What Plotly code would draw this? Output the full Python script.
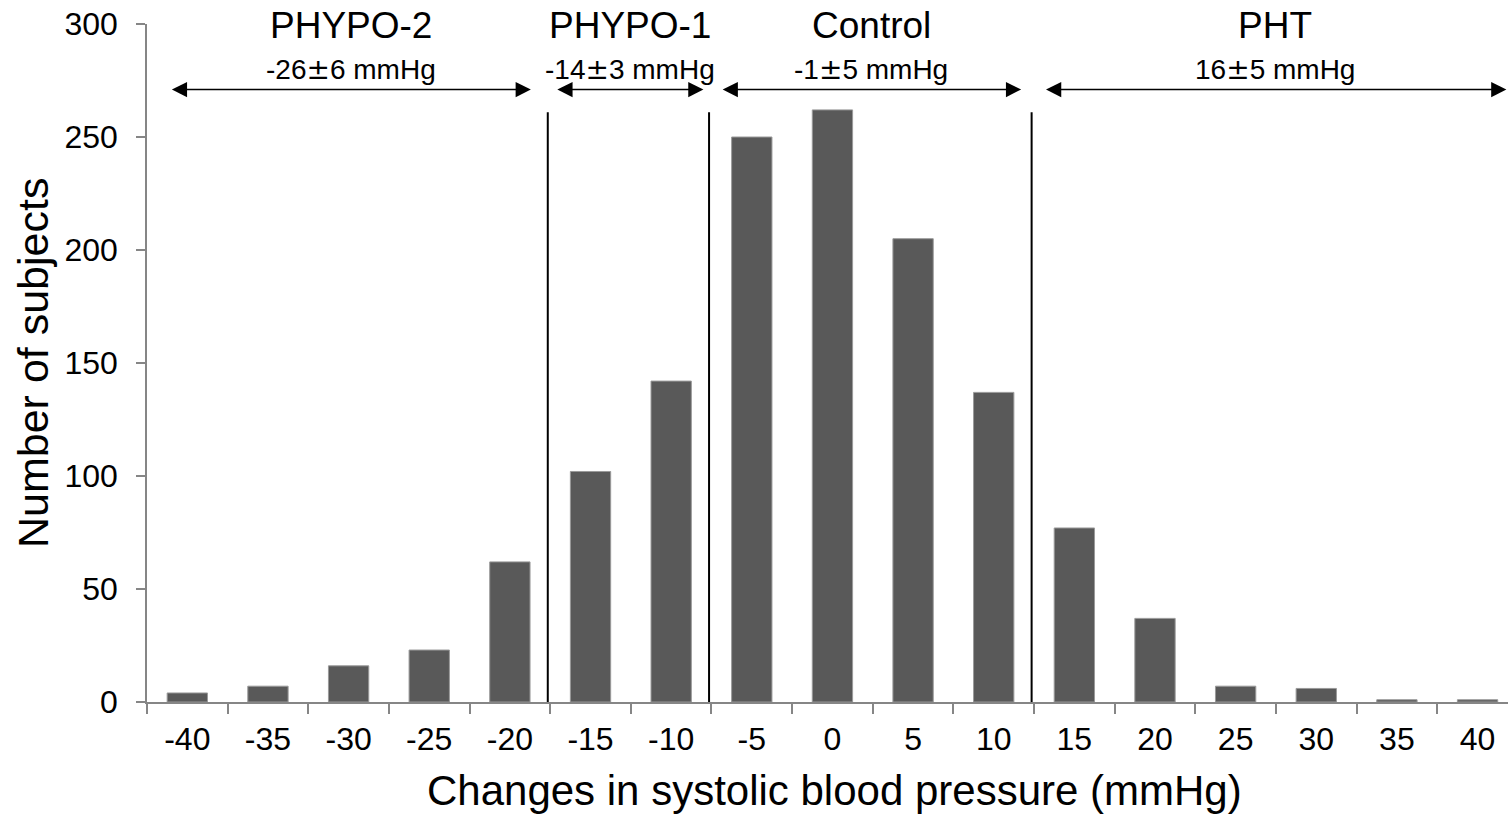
import plotly.graph_objects as go

# ---- data ----
categories = ["-40", "-35", "-30", "-25", "-20", "-15", "-10", "-5", "0",
              "5", "10", "15", "20", "25", "30", "35", "40"]
counts = [4, 7, 16, 23, 62, 102, 142, 250, 262, 205, 137, 77, 37, 7, 6, 1, 1]

group_names = ["PHYPO-2", "PHYPO-1", "Control", "PHT"]
group_mean = ["-26", "-14", "-1", "16"]
group_sd = ["6", "3", "5", "5"]
group_first = ["-40", "-15", "-5", "15"]
group_last = ["-20", "-10", "10", "40"]

x_title = "Changes in systolic blood pressure (mmHg)"
y_title = "Number of subjects"
y_ticks = [0, 50, 100, 150, 200, 250, 300]

# ---- layout constants ----
W, H = 1508, 816
ML, MR, MT, MB = 147, 0, 24, 114
cat_px = 80.64
x_max = -0.5 + (W - ML - MR) / cat_px
FONT = "Liberation Sans, Arial, sans-serif"
AXIS_GRAY = "#868686"
PM = '<span style="font-family:DejaVu Sans">\u00b1</span>'

# arrow pads (in category units) from the group boundaries
arrow_pad_left = [0.29, 0.07, 0.12, 0.13]
arrow_pad_right = [0.24, 0.10, 0.16, None]
line_top = 261
arrow_y = 271

fig = go.Figure()
fig.add_trace(go.Bar(
    x=categories, y=counts, width=0.5,
    marker=dict(color="#595959", line=dict(color="#9a9a9a", width=1)),
    hoverinfo="x+y",
))

annotations = []
shapes = []
for i, name in enumerate(group_names):
    i0 = categories.index(group_first[i])
    i1 = categories.index(group_last[i])
    left = i0 - 0.5 + arrow_pad_left[i]
    right = (i1 + 0.5 - arrow_pad_right[i]) if arrow_pad_right[i] is not None else x_max - 0.02
    mid = (left + right) / 2
    # double-headed arrow
    annotations.append(dict(
        x=right, y=arrow_y, ax=left, ay=arrow_y, xref="x", yref="y",
        axref="x", ayref="y", text="", showarrow=True,
        arrowhead=2, startarrowhead=2, arrowside="end+start",
        arrowwidth=1.6, arrowsize=1.9, startarrowsize=1.9,
        arrowcolor="black",
    ))
    annotations.append(dict(
        x=mid, y=299.5, xref="x", yref="y", text=name, showarrow=False,
        font=dict(family=FONT, size=37, color="black"),
        xanchor="center", yanchor="middle",
    ))
    annotations.append(dict(
        x=mid, y=280, xref="x", yref="y",
        text=f"{group_mean[i]}{PM}{group_sd[i]} mmHg", showarrow=False,
        font=dict(family=FONT, size=28, color="black"),
        xanchor="center", yanchor="middle",
    ))
    if i > 0:
        xb = i0 - 0.5 - 0.03
        shapes.append(dict(type="line", xref="x", yref="y", x0=xb, x1=xb,
                           y0=0, y1=line_top, line=dict(color="black", width=2)))

# axis titles
annotations.append(dict(
    x=(834 - ML) / (W - ML - MR), y=-(790 - (H - MB)) / (H - MT - MB),
    xref="paper", yref="paper", text=x_title, showarrow=False,
    font=dict(family=FONT, size=42, color="black"),
    xanchor="center", yanchor="middle",
))
annotations.append(dict(
    x=(33 - ML) / (W - ML - MR), y=0.5,
    xref="paper", yref="paper", text=y_title, showarrow=False, textangle=-90,
    font=dict(family=FONT, size=43, color="black"),
    xanchor="center", yanchor="middle",
))

fig.update_layout(
    width=W, height=H,
    margin=dict(l=ML, r=MR, t=MT, b=MB, pad=0),
    paper_bgcolor="white", plot_bgcolor="white",
    showlegend=False,
    bargap=0.5,
    annotations=annotations,
    shapes=shapes,
    font=dict(family=FONT, color="black"),
    xaxis=dict(
        type="category", range=[-0.5, x_max], tickson="boundaries",
        ticks="outside", ticklen=10, tickwidth=1.5, tickcolor=AXIS_GRAY,
        showline=True, linecolor=AXIS_GRAY, linewidth=1.5,
        showgrid=False, zeroline=False,
        tickfont=dict(family=FONT, size=32, color="black"),
        ticklabelstandoff=8, fixedrange=True,
    ),
    yaxis=dict(
        range=[0, 300], tickvals=y_ticks,
        ticks="outside", ticklen=9, tickwidth=1.5, tickcolor=AXIS_GRAY,
        showline=True, linecolor=AXIS_GRAY, linewidth=1.5,
        showgrid=False, zeroline=False,
        tickfont=dict(family=FONT, size=32, color="black"),
        ticklabelstandoff=12, fixedrange=True,
    ),
)

fig.write_html("out.html")
